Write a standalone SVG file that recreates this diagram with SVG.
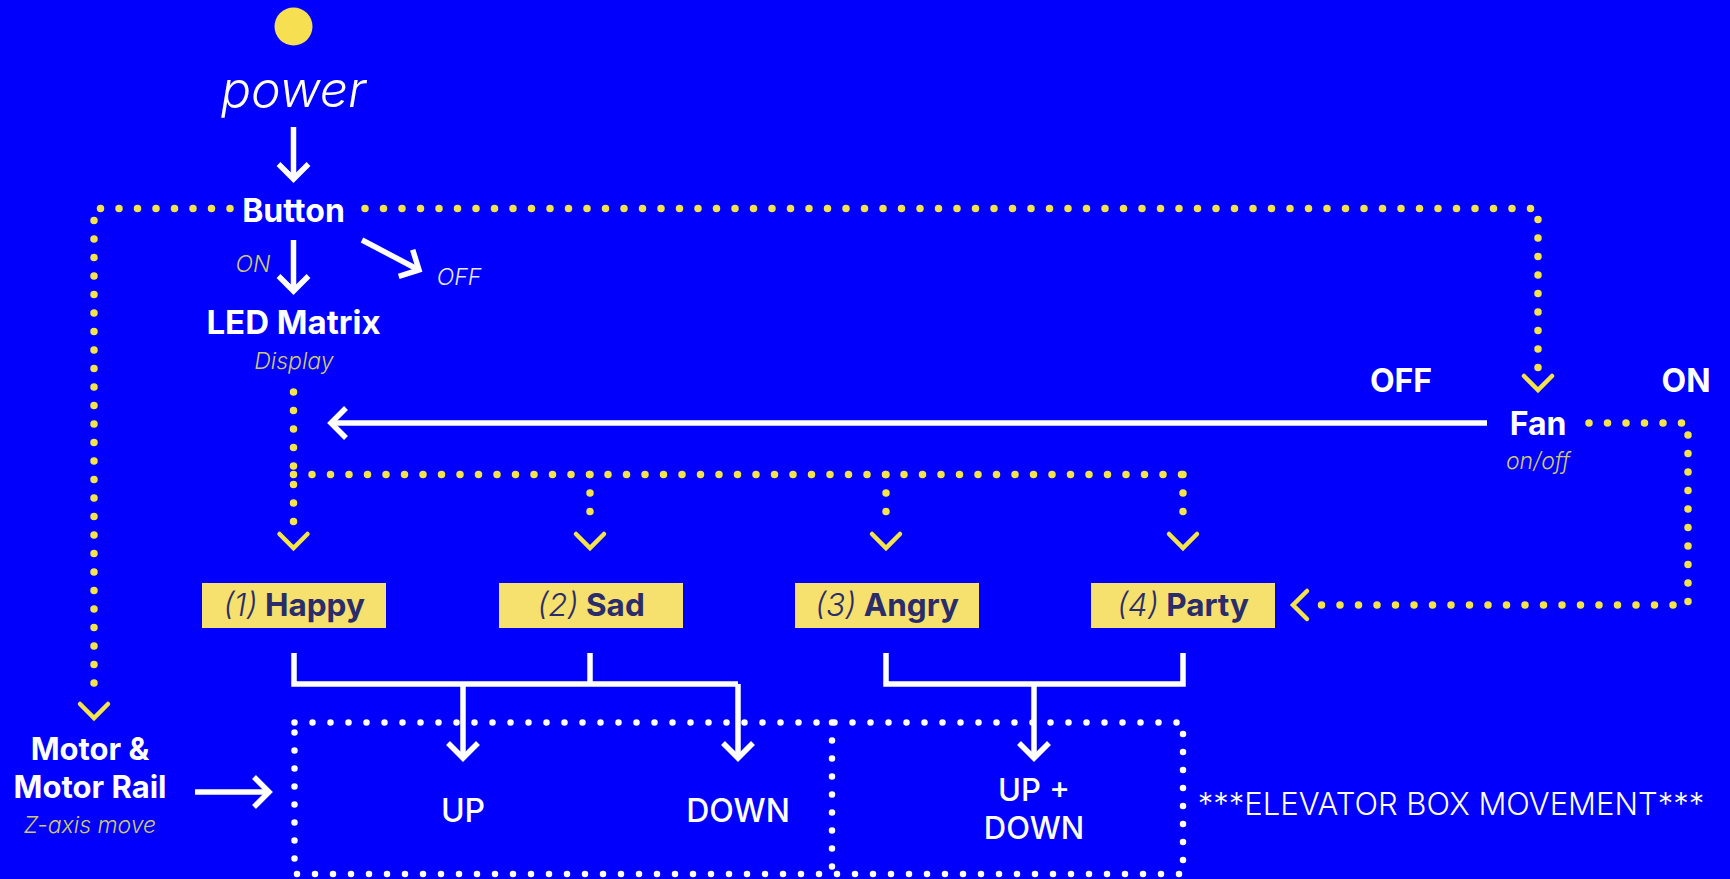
<svg xmlns="http://www.w3.org/2000/svg" width="1730" height="879" viewBox="0 0 1730 879">
<defs>
<style>
text{font-family:Inter,"Noto Sans","Liberation Sans",sans-serif;text-anchor:middle}
.b{font-weight:700;fill:#fff;font-size:32px}
.m{font-weight:500;fill:#fff;font-size:32px}
.it{font-style:italic;font-weight:300;font-size:23px;fill:#cfc870}
.w{stroke:#fff;stroke-width:5.5;fill:none}
.yd{stroke:#f2e44a;stroke-width:7.5;stroke-linecap:round;stroke-dasharray:0 18.5;fill:none}
.wd{stroke:#fff;stroke-width:6.5;stroke-linecap:round;stroke-dasharray:0 18;fill:none}
.yc{stroke:#f2e44a;stroke-width:4.5;fill:none;stroke-linecap:round;stroke-linejoin:miter}
.box{fill:#f6e06e}
.bt{font-size:31.5px;fill:#2b2d6b;font-weight:700}
.bn{font-style:italic;font-weight:300}
</style>
<marker id="wa" markerUnits="userSpaceOnUse" viewBox="-20 -20 24 40" refX="0" refY="0" markerWidth="24" markerHeight="40" orient="auto" overflow="visible">
<path d="M-15,-15 L0,0 L-15,15" fill="none" stroke="#fff" stroke-width="5.5"/>
</marker>
</defs>
<rect width="1730" height="879" fill="#0000fc"/>

<g id="connectors">
<path class="yd" d="M230 208.5 H94 V700"/>
<path class="yc" d="M80 704 L94 718 L108 704"/>
<path class="yd" d="M365 208.5 H1538 V372"/>
<path class="yc" d="M1524 376 L1538 390 L1552 376"/>
<path class="yd" d="M293.5 392 V530"/>
<path class="yd" d="M293.5 474.5 H1183"/>
<path class="yd" d="M590 474.5 V530"/>
<path class="yd" d="M886 474.5 V530"/>
<path class="yd" d="M1183 474.5 V530"/>
<path class="yc" d="M279.5 534 L293.5 548 L307.5 534"/>
<path class="yc" d="M576 534 L590 548 L604 534"/>
<path class="yc" d="M872 534 L886 548 L900 534"/>
<path class="yc" d="M1169 534 L1183 548 L1197 534"/>
<path class="yd" d="M1589 423 H1688 V605 H1312"/>
<path class="yc" d="M1307 591 L1293 605 L1307 619"/>
<line class="w" x1="293.5" y1="127" x2="293.5" y2="179" marker-end="url(#wa)"/>
<line class="w" x1="293.5" y1="240" x2="293.5" y2="291" marker-end="url(#wa)"/>
<line class="w" x1="362" y1="240" x2="419" y2="270" marker-end="url(#wa)"/>
<line class="w" x1="1487" y1="423" x2="331" y2="423" marker-end="url(#wa)"/>
<line class="w" x1="195" y1="792" x2="269" y2="792" marker-end="url(#wa)"/>
<path class="w" d="M294 653 V684 H738"/>
<path class="w" d="M590 653 V684"/>
<line class="w" x1="463" y1="684" x2="463" y2="758" marker-end="url(#wa)"/>
<line class="w" x1="738" y1="684" x2="738" y2="758" marker-end="url(#wa)"/>
<path class="w" d="M886 653 V684 H1183 V653"/>
<line class="w" x1="1034" y1="684" x2="1034" y2="758" marker-end="url(#wa)"/>
</g>

<g id="power">
<circle cx="293.5" cy="26.5" r="19" fill="#f6e052"/>
<text x="293.5" y="107" style="font-size:50px;font-style:italic;font-weight:300;fill:#fff">power</text>
</g>
<g id="button">
<text class="b" x="293.5" y="222">Button</text>
<text class="it" x="253" y="272">ON</text>
<text class="it" x="459" y="285" style="fill:#e8e8ff">OFF</text>
</g>
<g id="led">
<text class="b" x="293.5" y="334" style="font-size:33px">LED Matrix</text>
<text class="it" x="294" y="369">Display</text>
</g>
<g id="fan">
<text class="b" x="1538" y="435">Fan</text>
<text class="it" x="1538" y="469">on/off</text>
<text class="b" x="1401" y="392">OFF</text>
<text class="b" x="1686" y="392">ON</text>
</g>
<g id="happy">
<rect class="box" x="202" y="583" width="184" height="45"/>
<text class="bt" x="294" y="616"><tspan class="bn">(1)</tspan> Happy</text>
</g>
<g id="sad">
<rect class="box" x="499" y="583" width="184" height="45"/>
<text class="bt" x="591" y="616"><tspan class="bn">(2)</tspan> Sad</text>
</g>
<g id="angry">
<rect class="box" x="795" y="583" width="184" height="45"/>
<text class="bt" x="887" y="616"><tspan class="bn">(3)</tspan> Angry</text>
</g>
<g id="party">
<rect class="box" x="1091" y="583" width="184" height="45"/>
<text class="bt" x="1183" y="616"><tspan class="bn">(4)</tspan> Party</text>
</g>
<g id="motor">
<text class="b" x="90" y="760" style="font-size:31px">Motor &amp;</text>
<text class="b" x="90" y="798" style="font-size:31px">Motor Rail</text>
<text class="it" x="90" y="833">Z-axis move</text>
</g>
<g id="elevator">
<path class="wd" d="M294.5 722.5 H1183 V874 H294.5 Z"/>
<path class="wd" d="M832 722.5 V874"/>
<text class="m" x="463" y="822">UP</text>
<text class="m" x="738" y="822">DOWN</text>
<text class="m" x="1034" y="801" style="font-size:31px">UP +</text>
<text class="m" x="1034" y="839" style="font-size:31px">DOWN</text>
<text x="1451" y="815" style="font-size:31px;font-weight:300;fill:#fff">***ELEVATOR BOX MOVEMENT***</text>
</g>
</svg>
